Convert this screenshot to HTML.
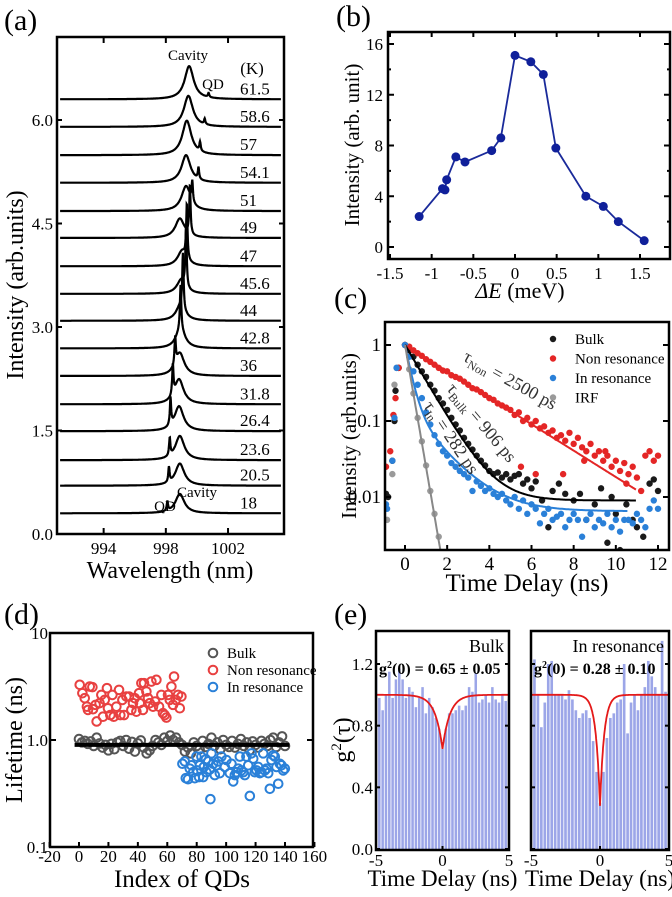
<!DOCTYPE html>
<html><head><meta charset="utf-8"><style>
html,body{margin:0;padding:0;background:#fff}
svg, svg text{font-family:"Liberation Serif","Times New Roman",serif}
</style></head><body>
<svg id="fig" width="672" height="892" viewBox="0 0 672 892" xmlns="http://www.w3.org/2000/svg" font-family="Liberation Serif, serif">
<rect width="672" height="892" fill="#fff"/>
<g id="pa"></g>
<g id="pb"></g>
<g id="pc"></g>
<g id="pd"></g>
<g id="pe"></g>
</svg>
<script>
// ---------- Panel (a) data ----------
const aTemps=["18","20.5","23.6","26.4","31.8","36","42.8","44","45.6","47","49","51","54.1","57","58.6","61.5"];
const aOffsets=[0.30,0.70,1.07,1.49,1.88,2.29,2.69,3.09,3.48,3.88,4.29,4.68,5.09,5.49,5.90,6.30];
const aCavPos=[998.9,998.9,998.9,998.85,998.85,998.9,998.95,998.95,999.0,999.05,998.9,999.3,999.3,999.35,999.45,999.5];
const aCavAmp=[0.28,0.32,0.35,0.36,0.36,0.33,0.28,0.22,0.2,0.22,0.28,0.36,0.4,0.5,0.45,0.48];
const aQdPos=[998.1,998.2,998.25,998.3,998.45,998.6,998.95,999.1,999.3,999.35,999.55,999.7,1000.1,1000.2,1000.5,1000.75];
const aQdAmp=[0.14,0.22,0.26,0.4,0.45,0.4,0.65,0.8,0.87,0.8,0.72,0.3,0.17,0.13,0.08,0.06];
const aYTicks=[0,1.5,3,4.5,6];
const aYTickLabels=["0.0","1.5","3.0","4.5","6.0"];
const aXTicks=[994,998,1002];
// ---------- Panel (b) data ----------
const bX=[-1.15,-0.87,-0.84,-0.82,-0.71,-0.6,-0.28,-0.17,0,0.19,0.34,0.49,0.85,1.06,1.24,1.55];
const bY=[2.4,4.6,4.5,5.3,7.1,6.7,7.6,8.6,15.1,14.6,13.6,7.8,4.0,3.2,2.0,0.5];
const bXTicks=[-1.5,-1,-0.5,0,0.5,1,1.5];
const bYTicks=[0,4,8,12,16];
// ---------- Panel (c) data ----------
const nonT=[-0.9,-0.7,-0.55,-0.45,-0.3,0,0.2,0.4,0.6,0.8,1.0,1.2,1.4,1.6,1.8,2.0,2.2,2.4,2.6,2.8,3.0,3.2,3.4,3.6,3.8,4.0,4.2,4.4,4.6,4.8,5.0,5.2,5.4,5.6,5.8,6.0,6.2,6.4,6.6,6.8,7.0,7.2,7.4,7.6,7.8,8.0,8.2,8.4,8.6,8.8,9.0,9.2,9.4,9.6,9.8,10.0,10.2,10.4,10.6,10.8,11.0,11.2,11.4,11.6,11.8,12.0,5.5,6.2,7.5,8.5,9.5,10.5];
const nonV=[0.025,0.04,0.12,0.2,0.5,1,0.95,0.85,0.78,0.72,0.65,0.6,0.55,0.5,0.46,0.45,0.4,0.38,0.36,0.33,0.3,0.27,0.26,0.24,0.22,0.2,0.19,0.17,0.16,0.15,0.14,0.12,0.13,0.1,0.11,0.09,0.1,0.08,0.085,0.07,0.075,0.06,0.065,0.055,0.07,0.05,0.06,0.045,0.04,0.05,0.035,0.04,0.03,0.035,0.025,0.03,0.022,0.028,0.02,0.025,0.018,0.012,0.035,0.04,0.03,0.035,0.025,0.02,0.02,0.03,0.04,0.015];
const bulkT=[-0.9,-0.8,-0.6,-0.5,-0.45,-0.3,0,0.2,0.4,0.6,0.8,1.0,1.2,1.4,1.6,1.8,2.0,2.2,2.4,2.6,2.8,3.0,3.2,3.4,3.6,3.8,4.0,4.2,4.4,4.6,4.8,5.0,5.2,5.4,5.6,5.8,6.0,6.2,6.5,6.8,7.0,7.3,7.6,8.0,8.3,8.6,9.0,9.3,9.6,9.8,10.0,10.2,10.5,10.8,11.0,11.3,11.6,11.8,12.0];
const bulkV=[0.011,0.01,0.03,0.1,0.25,0.5,1,0.85,0.7,0.55,0.45,0.38,0.3,0.25,0.2,0.17,0.14,0.11,0.09,0.075,0.06,0.05,0.042,0.035,0.03,0.026,0.022,0.02,0.021,0.018,0.02,0.017,0.019,0.02,0.015,0.017,0.013,0.016,0.009,0.004,0.012,0.015,0.011,0.009,0.011,0.005,0.008,0.013,0.0025,0.01,0.006,0.002,0.008,0.005,0.004,0.003,0.015,0.017,0.012];
const inT=[-0.9,-0.85,-0.6,-0.5,-0.4,0,0.2,0.4,0.6,0.8,1.0,1.2,1.4,1.6,1.8,2.0,2.2,2.4,2.6,2.8,3.0,3.2,3.4,3.6,3.8,4.0,4.2,4.4,4.6,4.8,5.0,5.2,5.4,5.6,5.8,6.0,6.2,6.4,6.6,6.8,7.0,7.2,7.4,7.6,7.8,8.0,8.2,8.4,8.6,8.8,9.0,9.2,9.4,9.6,9.8,10.0,10.2,10.4,10.6,10.8,11.0,11.2,11.4,11.6,11.8,12.0];
const inV=[0.008,0.007,0.03,0.11,0.5,1,0.7,0.45,0.3,0.2,0.13,0.09,0.065,0.05,0.04,0.035,0.028,0.025,0.022,0.02,0.018,0.012,0.016,0.014,0.012,0.013,0.011,0.01,0.011,0.009,0.008,0.01,0.007,0.009,0.006,0.008,0.007,0.0045,0.006,0.007,0.005,0.0055,0.006,0.004,0.005,0.006,0.005,0.003,0.005,0.006,0.004,0.005,0.0045,0.006,0.004,0.005,0.0035,0.005,0.005,0.0045,0.006,0.005,0.004,0.007,0.009,0.007];
const irfT=[-0.85,-0.6,-0.5,-0.4,0,0.2,0.4,0.6,0.8,1.0,1.2,1.4,1.6];
const irfV=[0.005,0.02,0.3,0.5,1,0.48,0.23,0.11,0.054,0.026,0.012,0.006,0.003];
const cFitTau=[2.5,0.906,0.282,0.27];
const cXTicks=[0,2,4,6,8,10,12];
const cYTicks=[1,0.1,0.01];
const cYTickLabels=["1","0.1","0.01"];
// ---------- Panel (d) data ----------
const dNonIdx=[0.5,2.3,3.9,5.4,6.1,7.3,9.1,9.5,11.3,12,14,15.2,16.3,17.5,19,19.7,21.3,22.7,23.6,25.4,27.2,28.1,29.5,30.6,32.2,34,35.6,36.7,37.9,39,40.8,41.3,42.4,43.5,44.2,45.8,46.9,48.1,49.2,50.3,51.7,52.6,54.4,56,57.1,58.3,59.4,60.5,61.7,62.8,63.9,64.6,65.8,67.3,68.5,69.6];
const dNonVal=[3.28,2.74,2.46,2.05,1.91,3.16,3.12,1.94,2.13,1.49,2.21,2.64,1.65,2.37,3.05,1.98,1.71,2.64,1.65,2.05,2.94,1.71,2.37,1.71,2.55,2.55,1.91,2.21,2.46,1.84,2.74,2.21,3.40,1.91,3.40,2.84,2.46,2.21,3.52,2.05,2.29,3.65,2.05,2.64,1.78,1.71,1.62,2.64,2.37,3.16,2.13,3.92,2.37,2.64,1.98,2.55];
const dBulkVal=[1.02,0.95,0.98,0.92,0.97,0.88,1.05,0.93,0.85,0.9,0.8,0.92,0.82,0.95,0.98,0.88,1.0,0.83,0.96,0.78,0.93,0.99,0.85,0.75,0.8,0.88,1.0,0.95,0.9,1.05,0.98,1.1,1.0,1.05,0.95,0.9,0.78,0.85,0.75,0.95,0.88,0.82,0.98,0.86,0.92,1.05,0.88,0.95,0.82,1.0,0.9,0.86,0.98,0.85,0.92,1.02,0.88,0.95,0.8,0.97,0.9,0.85,0.98,0.92,0.88,1.0,1.05,0.86,0.95,1.08,0.88];
const dInIdx=[70.3,71.9,72.6,74.1,75.3,76.4,77.6,78.7,79.8,80.3,81.6,82.1,83.2,84.4,84.8,86.2,86.6,87.8,88.9,90,91.2,92.3,93.4,94.6,95.7,96.8,89.3,99.1,100.2,102.5,103.6,104.8,105.9,107,108.2,109.3,110.4,111.6,112.7,116.1,115,113.8,117.2,118.4,119.5,120.6,121.8,122.9,124,125.2,126.3,127.4,128.6,129.7,130.8,132,133.1,134.2,135.4,136.5,137.6,138.8,139.9];
const dInVal=[0.60,0.63,0.44,0.43,0.54,0.58,0.50,0.44,0.70,0.52,0.45,0.58,0.70,0.45,0.56,0.66,0.50,0.63,0.53,0.75,0.60,0.47,0.58,0.63,0.49,0.70,0.28,0.56,0.65,0.49,0.60,0.41,0.47,0.50,0.54,0.70,0.52,0.50,0.47,0.30,0.58,0.70,0.75,0.67,0.50,0.52,0.56,0.49,0.50,0.75,0.52,0.54,0.49,0.35,0.65,0.72,0.70,0.56,0.39,0.60,0.58,0.52,0.54];
const dFitLevel=[0.9];
const dXTicks=[-20,0,20,40,60,80,100,120,140,160];
const dYTicks=[10,1,0.1];
const dYTickLabels=["10","1.0","0.1"];
// ---------- Panel (e) data ----------
const eBulkBars=[1.12,0.98,0.9,1.0,1.15,0.98,1.1,1.17,1.1,0.98,1.05,1.02,0.92,0.98,1.05,0.88,0.98,0.92,0.85,0.78,0.65,0.78,0.88,0.88,0.9,0.93,0.9,0.93,1.05,1.02,1.14,0.95,0.97,1.0,0.95,1.05,0.97,0.95,1.0,0.96,0.97];
const eResBars=[1.02,1.23,1.0,0.79,0.95,1.2,1.22,1.0,1.0,1.0,0.97,1.03,0.97,0.9,0.85,0.88,0.9,0.85,0.7,0.5,0.3,0.5,0.72,0.85,0.88,0.95,0.97,1.2,0.75,0.95,1.0,0.9,1.0,1.05,1.22,1.12,1.05,1.0,1.35,1.02,1.0];
const eG0=[0.65,0.28];
const eTau=[0.55,0.3];
const eXTicks=[-5,0,5];
const eYTicks=[0,0.4,0.8,1.2];
const eYTickLabels=["0.0","0.4","0.8","1.2"];

const NS="http://www.w3.org/2000/svg";
const FONT='"Liberation Serif", "Times New Roman", serif';
function mk(parent,tag,attrs,text){const e=document.createElementNS(NS,tag);for(const k in attrs)e.setAttribute(k,attrs[k]);if(text!==undefined)e.textContent=text;parent.appendChild(e);return e;}
function lin(d0,d1,p0,p1){return v=>p0+(v-d0)/(d1-d0)*(p1-p0);}
function box(g,x0,y0,x1,y1,name){const r=mk(g,'rect',{x:x0,y:y0,width:x1-x0,height:y1-y0,fill:'none',stroke:'#000','stroke-width':2.5});return r;}
function txt(g,x,y,s,size,anchor,name,extra){const t=mk(g,'text',Object.assign({x:x,y:y,'font-size':size,'text-anchor':anchor||'start',fill:'#000','font-family':FONT,style:'font-family:'+FONT},extra||{}),s);return t;}
function tick(g,x1,y1,x2,y2){const l=mk(g,'line',{x1:x1,y1:y1,x2:x2,y2:y2,stroke:'#000','stroke-width':2});}

// ===== Panel (a) =====
(function(){
const g=document.getElementById('pa');
const X0=57,X1=284,Y0=37,Y1=534;
const xa=lin(991,1005.6,X0,X1), ya=lin(0,6,534,120);
txt(g,4,30,'(a)',30,'start','panel-label-a');
for(let i=0;i<aTemps.length;i++){
  let d='';
  for(let w=991.2;w<=1005.4;w+=0.02){
    const gc=0.35,gq=0.05;
    let v=aOffsets[i]+aCavAmp[i]*gc*gc/((w-aCavPos[i])**2+gc*gc)+aQdAmp[i]*gq*gq/((w-aQdPos[i])**2+gq*gq);
    d+=(d?'L':'M')+xa(w).toFixed(1)+','+ya(v).toFixed(1);
  }
  const p=mk(g,'path',{d:d,fill:'none',stroke:'#000','stroke-width':2.2});
  
  
  txt(g,240,ya(aOffsets[i])-5,aTemps[i],17,'start','temp-label');
}
box(g,X0,Y0,X1,Y1,'plot-frame-a');
aYTicks.forEach((v,i)=>{tick(g,X0,ya(v),X0+5,ya(v));tick(g,X1,ya(v),X1-5,ya(v));txt(g,X0-4,ya(v)+6,aYTickLabels[i],17,'end','y-tick-label');});
aXTicks.forEach(v=>{tick(g,xa(v),Y1,xa(v),Y1-6);tick(g,xa(v),Y0,xa(v),Y0+6);txt(g,xa(v),554,String(v),17,'middle','x-tick-label');});
txt(g,170,578,'Wavelength (nm)',24,'middle','x-axis-title-a');
txt(g,0,0,'Intensity (arb.units)',24,'middle','y-axis-title-a',{transform:'translate(23,285) rotate(-90)'});
txt(g,188,60,'Cavity',15,'middle','cavity-label-top');
txt(g,252,74,'(K)',17,'middle','kelvin-label');
txt(g,213,89,'QD',15,'middle','qd-label-top');
txt(g,165,511,'QD',15,'middle','qd-label-bottom');
txt(g,197,497,'Cavity',15,'middle','cavity-label-bottom');
})();

// ===== Panel (b) =====
(function(){
const g=document.getElementById('pb');
const X0=388,X1=670,Y0=32,Y1=259;
const xb=lin(-1.5,1.5,390,640), yb=lin(0,16,247,44);
txt(g,336,26,'(b)',30,'start','panel-label-b');
box(g,X0,Y0,X1,Y1,'plot-frame-b');
bXTicks.forEach(v=>{tick(g,xb(v),Y1,xb(v),Y1-5);tick(g,xb(v),Y0,xb(v),Y0+5);txt(g,xb(v),279,String(v),17,'middle','x-tick-label');});
for(let v=0;v<=16;v+=2){const l=v%4===0?6:3;tick(g,X0,yb(v),X0+l,yb(v));tick(g,X1,yb(v),X1-l,yb(v));}
bYTicks.forEach(v=>txt(g,X0-5,yb(v)+6,String(v),17,'end','y-tick-label'));
let d='';bX.forEach((x,i)=>{d+=(i?'L':'M')+xb(x)+','+yb(bY[i]);});
const p=mk(g,'path',{d:d,fill:'none',stroke:'#1a2a9a','stroke-width':1.8});

bX.forEach((x,i)=>{const c=mk(g,'circle',{cx:xb(x),cy:yb(bY[i]),r:4.5,fill:'#10209a'});});
const t=txt(g,520,298,'',22,'middle','x-axis-title-b');
mk(t,'tspan',{'font-style':'italic'},'ΔE');mk(t,'tspan',{},' (meV)');
txt(g,0,0,'Intensity (arb. unit)',21,'middle','y-axis-title-b',{transform:'translate(359,145) rotate(-90)'});
})();

// ===== Panel (c) =====
(function(){
const g=document.getElementById('pc');
const X0=385,X1=669,Y0=322,Y1=550;
const xc=lin(0,12,405,658), yc=v=>345-Math.log10(v)*76;
txt(g,334,308,'(c)',30,'start','panel-label-c');
const cp=mk(g,'clipPath',{id:'clipc'});mk(cp,'rect',{x:X0,y:Y0,width:X1-X0,height:Y1-Y0});
const dg=mk(g,'g',{'clip-path':'url(#clipc)'});
function dots(T,V,col,name){T.forEach((t,i)=>{const c=mk(dg,'circle',{cx:xc(t),cy:yc(V[i]),r:3.2,fill:col});});}
function fit(f,t1,col,name){let d='';for(let t=0;t<=t1;t+=0.05){d+=(d?'L':'M')+xc(t).toFixed(1)+','+yc(f(t)).toFixed(1);}const p=mk(dg,'path',{d:d,fill:'none',stroke:col,'stroke-width':2});}
dots(irfT,irfV,'#9a9a9a','irf-point');
dots(bulkT,bulkV,'#1a1a1a','bulk-point');
dots(nonT,nonV,'#e42626','non-resonance-point');
dots(inT,inV,'#2a80d8','in-resonance-point');
fit(t=>Math.exp(-t/cFitTau[0]),11,'#e42626','non-resonance-fit');
fit(t=>Math.exp(-t/cFitTau[1])+0.009,11,'#000','bulk-fit');
fit(t=>0.85*Math.exp(-t/cFitTau[2])+0.15*Math.exp(-t/1.3)+0.0065,10.6,'#2a80d8','in-resonance-fit');
fit(t=>Math.exp(-t/cFitTau[3]),1.75,'#888','irf-fit');
box(g,X0,Y0,X1,Y1,'plot-frame-c');
cXTicks.forEach(v=>{tick(g,xc(v),Y1,xc(v),Y1-5);txt(g,xc(v),570,String(v),19,'middle','x-tick-label');});
cYTicks.forEach((v,i)=>{tick(g,X0,yc(v),X0+6,yc(v));tick(g,X1,yc(v),X1-6,yc(v));txt(g,X0-4,yc(v)+6,cYTickLabels[i],19,'end','y-tick-label');});
txt(g,527,591,'Time Delay (ns)',25,'middle','x-axis-title-c');
txt(g,0,0,'Intensity (arb.units)',21,'middle','y-axis-title-c',{transform:'translate(356,436) rotate(-90)'});
const leg=[['Bulk','#1a1a1a'],['Non resonance','#e42626'],['In resonance','#2a80d8'],['IRF','#9a9a9a']];
leg.forEach((l,i)=>{const y=339+i*19.5;const c=mk(g,'circle',{cx:553,cy:y,r:3.2,fill:l[1]});txt(g,575,y+5,l[0],15,'start','legend-entry');});
function tau(x,y,a,sub,rest,name){const t=txt(g,0,0,'',18,'start',name,{transform:'translate('+x+','+y+') rotate('+a+')',fill:'#333'});mk(t,'tspan',{},'τ');mk(t,'tspan',{'font-size':12,dy:4},sub);mk(t,'tspan',{dy:-4},rest);}
tau(462,360,29,'Non',' = 2500 ps','tau-non-label');
tau(446,389,50,'Bulk',' = 906 ps','tau-bulk-label');
tau(423,406,56,'In',' = 282 ps','tau-in-label');
})();

// ===== Panel (d) =====
(function(){
const g=document.getElementById('pd');
const X0=50,X1=313,Y0=633,Y1=847;
const xd=lin(0,140,79,285), yd=v=>740-Math.log10(v)*107;
txt(g,4,624,'(d)',30,'start','panel-label-d');
function circ(x,y,col,name){const c=mk(g,'circle',{cx:x,cy:y,r:4.3,fill:'none',stroke:col,'stroke-width':2});}
dBulkVal.forEach((v,i)=>circ(xd(i*2),yd(v),'#555','bulk-lifetime-point'));
dNonIdx.forEach((x,i)=>circ(xd(x),yd(dNonVal[i]),'#e84040','non-resonance-lifetime-point'));
dInIdx.forEach((x,i)=>circ(xd(x),yd(dInVal[i]),'#2a80d8','in-resonance-lifetime-point'));
const fl=mk(g,'line',{x1:xd(-3),y1:yd(dFitLevel[0]),x2:xd(143),y2:yd(dFitLevel[0]),stroke:'#000','stroke-width':4});

box(g,X0,Y0,X1,Y1,'plot-frame-d');
dXTicks.forEach(v=>{tick(g,xd(v),Y1,xd(v),Y1-5);txt(g,xd(v),862,String(v),17,'middle','x-tick-label');});
dYTicks.forEach((v,i)=>{tick(g,X0,yd(v),X0+6,yd(v));tick(g,X1,yd(v),X1-6,yd(v));txt(g,X0-2,yd(v)+6,dYTickLabels[i],17,'end','y-tick-label');});
txt(g,182,887,'Index of QDs',25,'middle','x-axis-title-d');
txt(g,0,0,'Lifetime (ns)',24,'middle','y-axis-title-d',{transform:'translate(22,740) rotate(-90)'});
const leg=[['Bulk','#555'],['Non resonance','#e84040'],['In resonance','#2a80d8']];
leg.forEach((l,i)=>{const y=653+i*17;circ(213,y,l[1],'legend-marker');txt(g,227,y+5,l[0],15,'start','legend-entry');});
})();

// ===== Panel (e) =====
(function(){
const g=document.getElementById('pe');
const Y0=631,Y1=850;
const ye=lin(0,1.2,849,664);
txt(g,334,624,'(e)',30,'start','panel-label-e');
function sub(X0,X1,bars,g0,tau,name,label,gtext){
  const xe=lin(-5,5,X0,X1);
  const cl=mk(g,'clipPath',{id:'clip'+name});mk(cl,'rect',{x:X0,y:Y0,width:X1-X0,height:Y1-Y0});
  const dg=mk(g,'g',{'clip-path':'url(#clip'+name+')'});
  bars.forEach((v,i)=>{const t=-5+i*0.25;const xl=xe(t-0.125),xr=xe(t+0.125);
    const b=mk(dg,'rect',{x:xl+0.4,y:ye(v),width:xr-xl-0.8,height:ye(0)-ye(v),fill:'#9ca6e8'});
    });
  let d='';for(let t=-5;t<=5.001;t+=0.02){const v=1-(1-g0)*Math.exp(-Math.abs(t)/tau);d+=(d?'L':'M')+xe(t).toFixed(1)+','+ye(v).toFixed(1);}
  const p=mk(dg,'path',{d:d,fill:'none',stroke:'#e41a1a','stroke-width':1.8});
  box(g,X0,Y0,X1,Y1,'plot-frame-'+name);
  eYTicks.forEach(v=>{tick(g,X0,ye(v),X0+4,ye(v));tick(g,X1,ye(v),X1-4,ye(v));});
  eXTicks.forEach(v=>{tick(g,xe(v),Y1,xe(v),Y1-4);txt(g,xe(v),866,String(v),17,'middle','x-tick-label');});
  txt(g,(X0+X1)/2,886,'Time Delay (ns)',23,'middle','x-axis-title-'+name);
  txt(g,X1-5,652,label,18,'end','label-'+name);
  const t=txt(g,X0+3,674,'',16,'start','g2-value-'+name,{'font-weight':'bold'});
  mk(t,'tspan',{},'g');mk(t,'tspan',{'font-size':10,dy:-6},'2');mk(t,'tspan',{dy:6},gtext);
}
sub(376,509,eBulkBars,eG0[0],eTau[0],'bulk','Bulk','(0) = 0.65 ± 0.05');
sub(531,669,eResBars,eG0[1],eTau[1],'in-resonance','In resonance','(0) = 0.28 ± 0.10');
eYTicks.forEach((v,i)=>txt(g,373,ye(v)+6,eYTickLabels[i],17,'end','y-tick-label'));
const yl=txt(g,0,0,'',24,'middle','y-axis-title-e',{transform:'translate(350,740) rotate(-90)'});
mk(yl,'tspan',{},'g');mk(yl,'tspan',{'font-size':15,dy:-9},'2');mk(yl,'tspan',{dy:9},'(τ)');
})();
</script>
</body></html>
